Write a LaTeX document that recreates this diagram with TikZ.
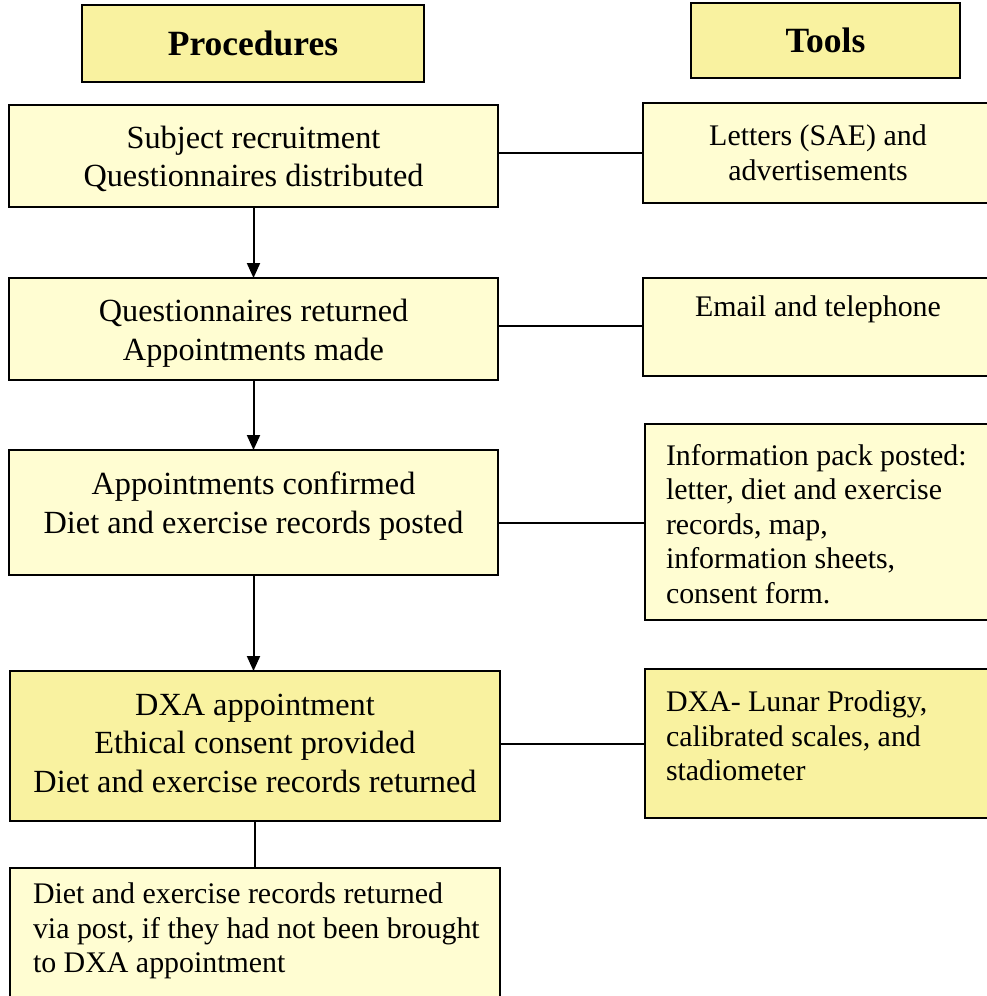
\documentclass[tikz,border=0pt]{standalone}
\usepackage{fontspec}
\setmainfont{Liberation Serif}
\usetikzlibrary{arrows.meta}
\definecolor{paleyel}{HTML}{FFFDD2}
\definecolor{strongyel}{HTML}{F9F2A0}
\begin{document}
\begin{tikzpicture}[x=1pt,y=-1pt,
  every node/.style={inner sep=0pt,outer sep=0pt},
  boxbase/.style={draw=black,line width=2pt,rectangle},
  pale/.style={boxbase,fill=paleyel},
  strong/.style={boxbase,fill=strongyel},
  bigtext/.style={font=\fontsize{32.3}{38.5}\selectfont,align=center},
  headtext/.style={font=\fontsize{35.5}{40}\selectfont\bfseries,align=center},
  smalltext/.style={font=\fontsize{29.9}{34.5}\selectfont},
  conn/.style={line width=2pt},
  arr/.style={conn,-{Triangle[length=15pt,width=13pt]}}]
\useasboundingbox (0,0) rectangle (986,996);
\fill[white] (0,0) rectangle (986,996);
% headers
\node[strong,minimum width=342,minimum height=77,headtext] (hp) at (253,43.5) {Procedures};
\node[strong,minimum width=269,minimum height=75,headtext] (ht) at (825.5,40.5) {Tools};
% procedure boxes
\node[pale,minimum width=489,minimum height=102] (p1) at (253.5,156) {};
\node[bigtext] (p1t) at (253.5,159) {Subject recruitment\\Questionnaires distributed};
\node[pale,minimum width=489,minimum height=102] (p2) at (253.5,329) {};
\node[bigtext] (p2t) at (253.5,333) {Questionnaires returned\\Appointments made};
\node[pale,minimum width=489,minimum height=125] (p3) at (253.5,512.5) {};
\node[bigtext] (p3t) at (253.5,506) {Appointments confirmed\\Diet and exercise records posted};
\node[strong,minimum width=490,minimum height=150] (p4) at (255,746) {};
\node[bigtext] (p4t) at (255,743) {DXA appointment\\Ethical consent provided\\Diet and exercise records returned};
\node[pale,minimum width=490,minimum height=140,anchor=north west] (p5) at (10,868) {};
\node[smalltext,anchor=north west,align=left] (p5t) at (33,883) {Diet and exercise records returned\\via post, if they had not been brought\\to DXA appointment};
% tool boxes
\node[pale,minimum width=350,minimum height=100,smalltext,align=center] (t1) at (818,153) {Letters (SAE) and\\advertisements};
\node[pale,minimum width=350,minimum height=98,anchor=north west] (t2) at (643,278) {};
\node[smalltext,anchor=north] (t2t) at (818,296) {Email and telephone};
\node[pale,minimum width=348,minimum height=196,anchor=north west] (t3) at (645,424) {};
\node[smalltext,anchor=north west,align=left] (t3t) at (666,444) {Information pack posted:\\letter, diet and exercise\\records, map,\\information sheets,\\consent form.};
\node[strong,minimum width=348,minimum height=149,anchor=north west] (t4) at (645,669) {};
\node[smalltext,anchor=north west,align=left] (t4t) at (666,691) {DXA- Lunar Prodigy,\\calibrated scales, and\\stadiometer};
% connectors
\draw[arr] (p1.south) -- (p2.north);
\draw[arr] (p2.south) -- (p3.north);
\draw[arr] (p3.south) -- (p3.south |- p4.north);
\draw[conn] (p4.south) -- (p4.south |- p5.north);
\draw[conn] (p1.east |- t1.west) -- (t1.west);
\draw[conn] (p2.east |- 0,326) -- (t2.west |- 0,326);
\draw[conn] (p3.east |- 0,523) -- (t3.west |- 0,523);
\draw[conn] (p4.east |- 0,744) -- (t4.west |- 0,744);
\end{tikzpicture}
\end{document}
